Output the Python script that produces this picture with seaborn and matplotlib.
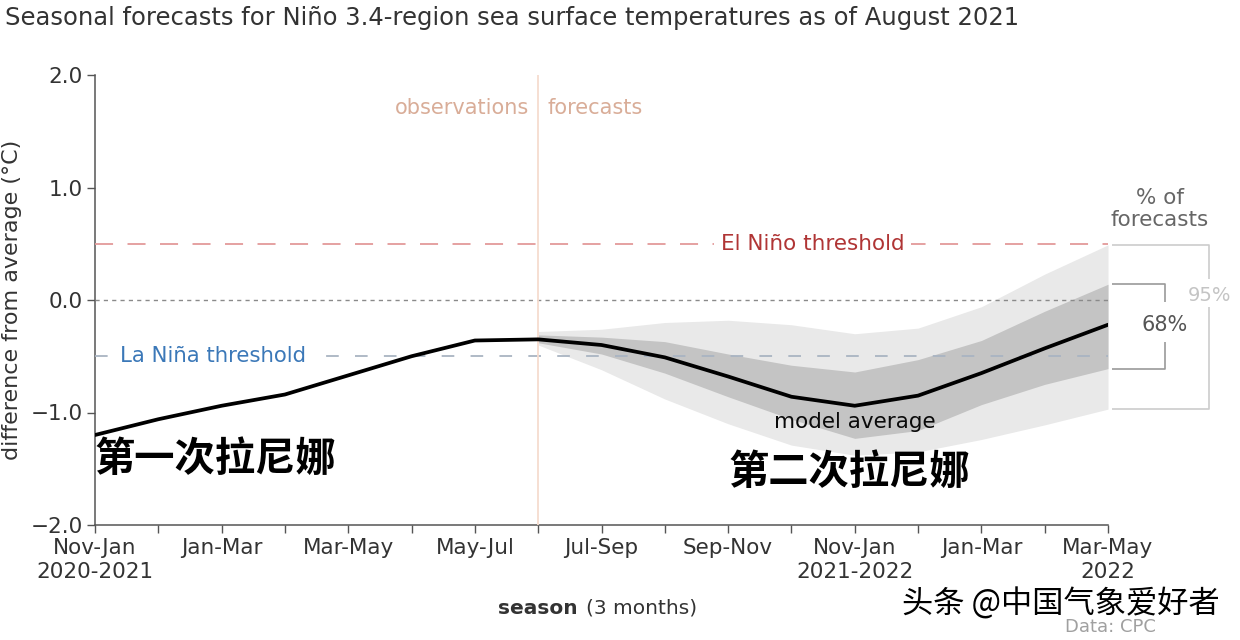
import matplotlib
matplotlib.use("Agg")
import matplotlib.pyplot as plt
import seaborn as sns
import pandas as pd
import numpy as np

# ---------------- data ----------------
seasons = ["NDJ", "DJF", "JFM", "FMA", "MAM", "AMJ", "MJJ", "JJA", "JAS",
           "ASO", "SON", "OND", "NDJ", "DJF", "JFM", "FMA", "MAM"]
tick_labels = ["Nov-Jan\n2020-2021", "Jan-Mar", "Mar-May", "May-Jul", "Jul-Sep",
               "Sep-Nov", "Nov-Jan\n2021-2022", "Jan-Mar", "Mar-May\n2022"]
obs_values = [-1.20, -1.06, -0.94, -0.84, -0.67, -0.50, -0.36, -0.35]
model_values = [-0.35, -0.40, -0.51, -0.68, -0.86, -0.94, -0.85, -0.65, -0.43, -0.22]
band68_hi = [-0.31, -0.33, -0.37, -0.48, -0.58, -0.64, -0.53, -0.36, -0.10, 0.14]
band68_lo = [-0.38, -0.48, -0.65, -0.86, -1.06, -1.23, -1.16, -0.93, -0.75, -0.61]
band95_hi = [-0.28, -0.26, -0.20, -0.18, -0.22, -0.30, -0.25, -0.06, 0.23, 0.49]
band95_lo = [-0.40, -0.62, -0.88, -1.10, -1.29, -1.38, -1.35, -1.24, -1.11, -0.97]
el_nino = 0.5
la_nina = -0.5

n_obs = len(obs_values)
x_all = np.arange(len(seasons))
x_obs = x_all[:n_obs]
x_fc = x_all[n_obs - 1:]

line_df = pd.DataFrame({
    "x": np.concatenate([x_obs, x_fc[1:]]),
    "value": obs_values + model_values[1:],
})

# ---------------- style ----------------
sns.set_theme(style="ticks")
plt.rcParams["font.family"] = ["DejaVu Sans", "Noto Sans CJK SC"]
TXT = "#333333"

fig = plt.figure(figsize=(12.4, 6.4), dpi=100, facecolor="white")
ax = fig.add_axes([95 / 1240, 1 - 525 / 640, (1108 - 95) / 1240, 450 / 640])
ax.set_facecolor("white")

# bands
ax.fill_between(x_fc, band95_lo, band95_hi, color="#e9e9e9", lw=0, zorder=1)
ax.fill_between(x_fc, band68_lo, band68_hi, color="#c4c4c4", lw=0, zorder=2)

# reference lines
ax.axhline(0, color="#8a8a8a", lw=1.0, ls=(0, (3, 3)), zorder=3)
ax.axhline(el_nino, color="#e39a9a", lw=1.3, ls=(0, (10, 8)), zorder=3)
ax.axhline(la_nina, color="#a9b4c2", lw=1.3, ls=(0, (7, 9)), zorder=3)
ax.axvline(n_obs - 1, color="#f6dccf", lw=1.3, zorder=3)

# main line
sns.lineplot(data=line_df, x="x", y="value", color="black", lw=2.7, ax=ax, zorder=5)

# axes cosmetics
ax.set_xlim(0, len(seasons) - 1)
ax.set_ylim(-2, 2)
ax.set_xticks(x_all)
ax.set_xticklabels([tick_labels[i // 2] if i % 2 == 0 else "" for i in x_all],
                   linespacing=1.3)
ax.set_yticks([2, 1, 0, -1, -2])
ax.set_yticklabels(["2.0", "1.0", "0.0", "\u22121.0", "\u22122.0"])
ax.tick_params(axis="both", length=6, width=1, color="#555555", labelsize=15.5,
               labelcolor=TXT, pad=3)
sns.despine(ax=ax)
for s in ("left", "bottom"):
    ax.spines[s].set_color("#555555")
    ax.spines[s].set_linewidth(1.1)
ax.set_xlabel("")
ax.set_ylabel("difference from average (\u00b0C)", fontsize=16, color=TXT, labelpad=6)

# texts inside
ax.text(n_obs - 0.15 - 1, 1.71, "observations", ha="right", va="center",
        fontsize=15, color="#d9ad98")
ax.text(n_obs + 0.15 - 1, 1.71, "forecasts", ha="left", va="center",
        fontsize=15, color="#d9ad98")
ax.text(11.33, el_nino, "El Ni\u00f1o threshold", ha="center", va="center",
        fontsize=15.5, color="#b03535", zorder=4,
        bbox=dict(boxstyle="square,pad=0.3", fc="white", ec="none"))
ax.text(0.4, la_nina, "La Ni\u00f1a threshold", ha="left", va="center",
        fontsize=15.3, color="#3b78b8", zorder=4,
        bbox=dict(boxstyle="square,pad=0.3", fc="white", ec="none"))
ax.text(12, -1.08, "model average", ha="center", va="center",
        fontsize=15.5, color="#0a0a0a", fontweight="normal", zorder=6)
ax.text(0.0, -1.42, "第一次拉尼娜", ha="left", va="center", fontsize=29,
        fontweight="heavy", color="black", family=["Noto Sans CJK SC"], zorder=6)
ax.text(10.0, -1.53, "第二次拉尼娜", ha="left", va="center", fontsize=29,
        fontweight="heavy", color="black", family=["Noto Sans CJK SC"], zorder=6)

# right-hand bracket annotations (data coords, outside axes)
last = len(seasons) - 1
xb0 = last + 0.07
x95 = last + 1.6
x68 = last + 0.9
kw = dict(clip_on=False, solid_capstyle="butt")
hi95, lo95 = band95_hi[-1], band95_lo[-1]
hi68, lo68 = band68_hi[-1], band68_lo[-1]
mid95 = 0.04
mid68 = -0.22
ax.plot([xb0, x95, x95], [hi95, hi95, mid95 + 0.15], color="#cccccc", lw=1.2, **kw)
ax.plot([x95, x95, xb0], [mid95 - 0.1, lo95, lo95], color="#cccccc", lw=1.2, **kw)
ax.text(x95, mid95, "95%", ha="center", va="center", fontsize=14, color="#c4c4c4")
ax.plot([xb0, x68, x68], [hi68, hi68, mid68 + 0.2], color="#9a9a9a", lw=1.2, **kw)
ax.plot([x68, x68, xb0], [mid68 - 0.15, lo68, lo68], color="#9a9a9a", lw=1.2, **kw)
ax.text(x68, mid68, "68%", ha="center", va="center", fontsize=15, color="#555555")
ax.text(last + 0.82, 0.81, "% of\nforecasts", ha="center", va="center",
        fontsize=15.5, color="#666666", linespacing=1.15)

# title and figure texts
fig.text(5 / 1240, 1 - 18 / 640,
         "Seasonal forecasts for Ni\u00f1o 3.4-region sea surface temperatures as of August 2021",
         ha="left", va="center", fontsize=17.5, color=TXT)
fig.text(578 / 1240, 1 - 608 / 640, "season", ha="right", va="center",
         fontsize=14.5, fontweight="bold", color=TXT)
fig.text(586 / 1240, 1 - 608 / 640, "(3 months)", ha="left", va="center",
         fontsize=14.5, color=TXT)
fig.text(1110 / 1240, 1 - 627 / 640, "Data: CPC", ha="center", va="center",
         fontsize=13, color="#a0a0a0")
fig.text(902 / 1240, 1 - 604 / 640, "头条 @中国气象爱好者", ha="left", va="center",
         fontsize=22.5, color="black", family=["Noto Sans CJK SC", "DejaVu Sans"])

fig.savefig("out.png", dpi=100, facecolor="white")
